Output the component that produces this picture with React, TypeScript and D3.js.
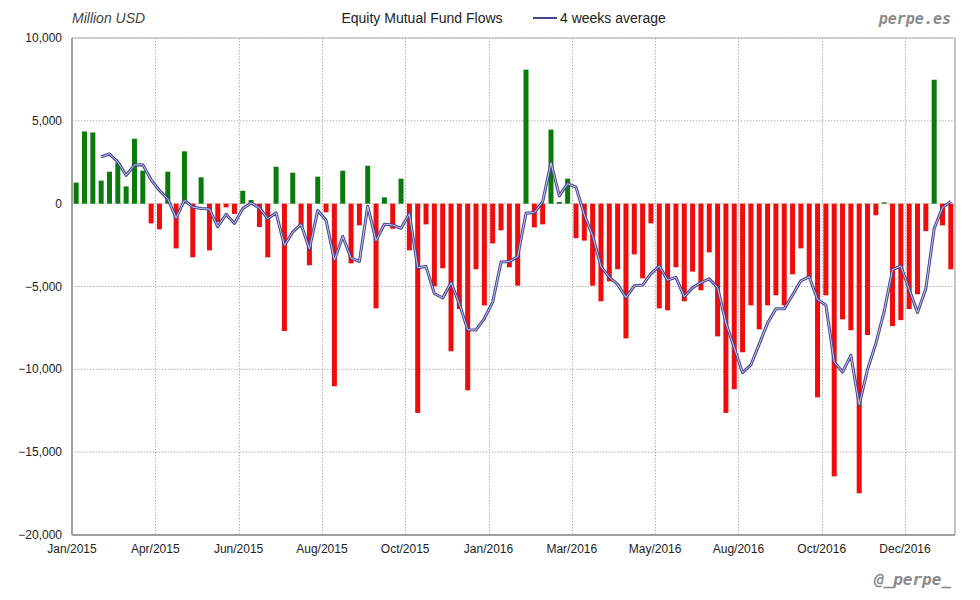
import React from "react";
import * as d3 from "d3";

const flows: number[] = [
  1270, 4360, 4300, 1390, 1930, 2470, 1040, 3920, 1990, -1190,
  -1550, 1930, -2700, 3160, -3240, 1590, -2820, -1110, -220, -620,
  780, 220, -1410, -3240, 2230, -7690, 1870, -1410, -3720, 1630,
  -520, -11020, 1990, -3600, -1310, 2290, -6320, 380, -1510, 1510,
  -2820, -12630, -1250, -4990, -3900, -8910, -6360, -11270, -3960, -6140,
  -2400, -1610, -3840, -4950, 8090, -1430, -1250, 4470, 100, 1510,
  -2090, -2230, -4950, -5890, -4690, -3960, -8130, -3060, -4510, -1190,
  -6320, -6440, -3840, -5890, -4100, -5230, -2940, -8010, -12630, -11200,
  -8970, -6140, -7590, -6140, -5530, -6140, -4260, -2700, -4530, -11690,
  -5530, -16460, -6980, -7640, -17480, -7930, -700, 80, -7390, -7030,
  -6360, -5470, -1660, 7480, -1310, -3960,
];

const tickIndices: number[] = [0, 10, 20, 30, 40, 50, 60, 70, 80, 90, 100];
const tickLabels: string[] = [
  "Jan/2015", "Apr/2015", "Jun/2015", "Aug/2015", "Oct/2015", "Jan/2016",
  "Mar/2016", "May/2016", "Aug/2016", "Oct/2016", "Dec/2016",
];
const yTicks: number[] = [10000, 5000, 0, -5000, -10000, -15000, -20000];
const AVG_WINDOW = 4;

const W = 980;
const H = 600;
const L = 72, R = 955, T = 38, B = 535;

export default function App() {
  const idx = flows.map((_, i) => i);
  const x = d3.scaleBand<number>().domain(idx).range([L, R]).padding(0);
  const y = d3.scaleLinear().domain([-20000, 10000]).range([B, T]);
  const bw = x.bandwidth();
  const fmt = d3.format(",");

  const avg: [number, number][] = [];
  for (let i = AVG_WINDOW - 1; i < flows.length; i++) {
    avg.push([i, d3.mean(flows.slice(i - AVG_WINDOW + 1, i + 1)) as number]);
  }
  const line = d3
    .line<[number, number]>()
    .x((d) => (x(d[0]) as number) + bw / 2)
    .y((d) => y(d[1]));
  const path = line(avg) || "";

  const font = "'Liberation Sans', Arial, sans-serif";

  return (
    <svg width={W} height={H} style={{ position: "absolute", left: 0, top: 0, background: "#fff" }}>
      {/* horizontal grid */}
      {yTicks.map((t) => (
        <line key={"h" + t} x1={L} x2={R} y1={y(t)} y2={y(t)} stroke="#b4b4b4" strokeWidth={1} strokeDasharray="1.5,1.5" />
      ))}
      {/* vertical grid */}
      {tickIndices.map((ti) => (
        <line key={"v" + ti} x1={Math.round(x(ti) as number) + 0.5} x2={Math.round(x(ti) as number) + 0.5} y1={T} y2={B} stroke="#b4b4b4" strokeWidth={1} strokeDasharray="1.5,1.5" />
      ))}
      {/* bars */}
      {flows.map((v, i) => (
        <rect
          key={i}
          x={(x(i) as number) + bw * 0.2}
          width={bw * 0.6}
          y={v >= 0 ? y(v) : y(0)}
          height={Math.abs(y(v) - y(0))}
          fill={v >= 0 ? "#0a7a0a" : "#f00c0c"}
        />
      ))}
      {/* average line */}
      <path d={path} fill="none" stroke="#45458f" strokeWidth={3} strokeLinejoin="round" />
      <path d={path} fill="none" stroke="#c8c8ee" strokeWidth={1} strokeLinejoin="round" />
      {/* frame */}
      <line x1={L} x2={R} y1={T} y2={T} stroke="#b0b0b0" strokeWidth={1} />
      <line x1={R} x2={R} y1={T} y2={B} stroke="#b0b0b0" strokeWidth={1.5} />
      <line x1={L} x2={L} y1={T} y2={B} stroke="#a0a0a0" strokeWidth={2} />
      <line x1={L} x2={R} y1={B} y2={B} stroke="#a0a0a0" strokeWidth={2} />
      {/* y labels */}
      {yTicks.map((t) => (
        <text key={"yl" + t} x={62} y={y(t) + 4} textAnchor="end" fontFamily={font} fontSize={12} fill="#222">
          {fmt(t)}
        </text>
      ))}
      {/* x labels */}
      {tickIndices.map((ti, k) => (
        <text key={"xl" + ti} x={x(ti) as number} y={553} textAnchor="middle" fontFamily={font} fontSize={12} fill="#222">
          {tickLabels[k]}
        </text>
      ))}
      {/* header */}
      <text x={72} y={23} fontFamily={font} fontStyle="italic" fontSize={14} fill="#444">Million USD</text>
      <text x={422} y={23} textAnchor="middle" fontFamily={font} fontSize={14} fill="#222">Equity Mutual Fund Flows</text>
      <line x1={533} x2={557} y1={18} y2={18} stroke="#45458f" strokeWidth={2} />
      <text x={560} y={23} fontFamily={font} fontSize={14} fill="#222">4 weeks average</text>
      <text x={951} y={24} textAnchor="end" fontFamily="'DejaVu Sans Mono', monospace" fontWeight="bold" fontStyle="italic" fontSize={15} fill="#8a8a8a">perpe.es</text>
      <text x={951} y={585} textAnchor="end" fontFamily="'DejaVu Sans Mono', monospace" fontWeight="bold" fontStyle="italic" fontSize={16} fill="#8a8a8a">@_perpe_</text>
    </svg>
  );
}
